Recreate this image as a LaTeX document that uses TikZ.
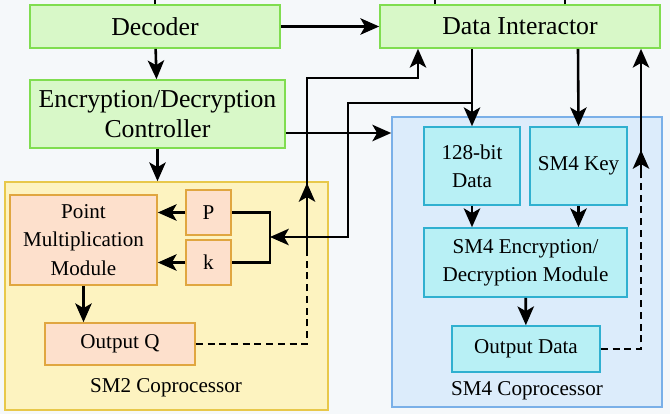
\documentclass[tikz,border=0pt]{standalone}
\usepackage{fontspec}
\setmainfont{Liberation Serif}
\usetikzlibrary{arrows.meta}
\definecolor{gfill}{HTML}{D8F8C8}\definecolor{gline}{HTML}{80DD50}
\definecolor{yfill}{HTML}{FDF3C0}\definecolor{yline}{HTML}{E8C84A}
\definecolor{ofill}{HTML}{FDE0CC}\definecolor{oline}{HTML}{E0A640}
\definecolor{bfill}{HTML}{DCECFB}\definecolor{bline}{HTML}{7AB0E8}
\definecolor{cfill}{HTML}{B8F0F5}\definecolor{cline}{HTML}{30B0D0}
\definecolor{bg}{HTML}{F5F8FA}
\begin{document}
\begin{tikzpicture}[x=0.03cm,y=-0.03cm,
 box/.style={draw,line width=1.4pt,inner sep=0pt},
 g/.style={box,fill=gfill,draw=gline,font=\fontsize{22}{25}\selectfont},
 o/.style={box,fill=ofill,draw=oline,font=\fontsize{18}{24}\selectfont},
 c/.style={box,fill=cfill,draw=cline,font=\fontsize{18}{24}\selectfont},
 ar/.style={-{Stealth[length=16pt,width=14pt,inset=4pt]},line width=2.2pt},
 ln/.style={line width=2.2pt},
 dsh/.style={line width=2.2pt,dash pattern=on 6pt off 4pt}]
\fill[bg] (0,0) rectangle (670,414);
\useasboundingbox (0,0) rectangle (670,414);
% containers
\node[box,fill=yfill,draw=yline,minimum width=323*0.03cm,minimum height=228*0.03cm] (sm2) at (166.5,296) {};
\node[font=\fontsize{18}{20}\selectfont] (sm2l) at (166,388) {SM2 Coprocessor};
\node[box,fill=bfill,draw=bline,minimum width=270*0.03cm,minimum height=290*0.03cm] (sm4) at (527,262) {};
\node[font=\fontsize{18}{20}\selectfont] (sm4l) at (527,391) {SM4 Coprocessor};
% green
\node[g,minimum width=250*0.03cm,minimum height=43*0.03cm] (dec) at (155,26.5) {Decoder};
\node[g,minimum width=280*0.03cm,minimum height=43*0.03cm] (di) at (520,26.5) {Data Interactor};
\node[g,minimum width=255*0.03cm,minimum height=68*0.03cm,align=center] (enc) at (157.5,114) {Encryption/Decryption\\Controller};
% orange
\node[o,minimum width=147*0.03cm,minimum height=90*0.03cm,align=center] (pm) at (83.5,240) {Point\\Multiplication\\Module};
\node[o,minimum width=45*0.03cm,minimum height=45*0.03cm] (p) at (208.5,212.5) {P};
\node[o,minimum width=45*0.03cm,minimum height=45*0.03cm] (k) at (208.5,262.5) {k};
\node[o,minimum width=150*0.03cm,minimum height=42*0.03cm] (q) at (120,344) {Output Q};
% cyan
\node[c,minimum width=96*0.03cm,minimum height=78*0.03cm,align=center] (d128) at (472,166) {128-bit\\Data};
\node[c,minimum width=97*0.03cm,minimum height=78*0.03cm] (key) at (578.5,166) {SM4 Key};
\node[c,minimum width=203*0.03cm,minimum height=69*0.03cm,align=center] (se) at (525.5,262.5) {SM4 Encryption/\\Decryption Module};
\node[c,minimum width=148*0.03cm,minimum height=46*0.03cm] (od) at (526,349) {Output Data};
% stubs at top
\draw[ln] (dec.north) -- ++(0,-6);
\draw[ln] (di.north -| 435,0) -- ++(0,-6);
\draw[ln] (di.north -| 565,0) -- ++(0,-6);
% connectors
\draw[ar] (dec) -- (di);
\draw[ar] (dec) -- (enc);
\draw[ar] (enc.south) -- (enc.south |- sm2.north);
\draw[ar] (enc.east |- 0,133) -- (sm4.west |- 0,133);
\draw[ar] (di.south -| 472,0) -- (d128.north);
\draw[ar] (di.south -| 578,0) -- (key.north);
\draw[ar] (d128) -- (d128 |- se.north);
\draw[ar] (key) -- (key |- se.north);
\draw[ar] (se) -- (od);
\draw[ar] (pm) -- (pm |- q.north);
\draw[ar] (p) -- (p.west -| pm.east);
\draw[ar] (k) -- (k.west -| pm.east);
\coordinate (br) at (270,237);
\draw[ln] (p.east) -- (270,212.5) -- (270,262.5) -- (k.east);
\draw[ar] (472,103) -- (348,103) -- (348,237) -- (br);
\coordinate (qup) at (307,183);
\draw[dsh] (q.east) -- (307,344) -- (307,200);
\draw[ar] (307,205) -- (qup);
\draw[ar] (307,250) -- (307,78) -- (418,78) -- (di.south -| 418,0);
\draw[dsh] (od.east) -- (641,349) -- (641,170);
\draw[ar] (641,175) -- (641,150);
\draw[ar] (641,160) -- (di.south -| 641,0);
\end{tikzpicture}
\end{document}
